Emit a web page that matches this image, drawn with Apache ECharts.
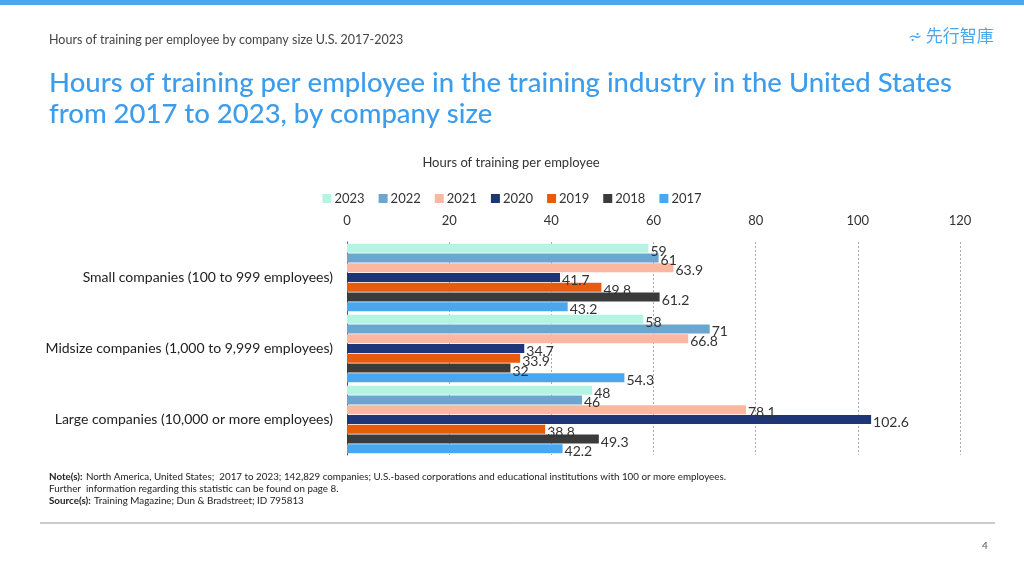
<!DOCTYPE html>
<html><head><meta charset="utf-8">
<script src="https://cdn.jsdelivr.net/npm/echarts@6/dist/echarts.min.js"></script>
<style>html,body{margin:0;padding:0;background:#fff}#c{width:1024px;height:576px}</style>
</head><body><div id="c"></div>
<script>
const categories = ['Small companies (100 to 999 employees)', 'Midsize companies (1,000 to 9,999 employees)', 'Large companies (10,000 or more employees)'];
const years = ['2023', '2022', '2021', '2020', '2019', '2018', '2017'];
const v2023 = [59, 58, 48];
const v2022 = [61, 71, 46];
const v2021 = [63.9, 66.8, 78.1];
const v2020 = [41.7, 34.7, 102.6];
const v2019 = [49.8, 33.9, 38.8];
const v2018 = [61.2, 32, 49.3];
const v2017 = [43.2, 54.3, 42.2];
const seriesValues = [v2023, v2022, v2021, v2020, v2019, v2018, v2017];
const colors = ['#b2f5e3', '#6aa6cf', '#fbb7a0', '#1e3677', '#e85b0c', '#3b3b3b', '#49a7f0'];
const xTicks = [0, 20, 40, 60, 80, 100, 120];

const font = 'Lato, "Open Sans", sans-serif';
const chart = echarts.init(document.getElementById('c'));
chart.setOption({
  animation: false,
  textStyle: { fontFamily: font },
  title: {
    text: 'Hours of training per employee in the training industry in the United States\nfrom 2017 to 2023, by company size',
    left: 49, top: 68, padding: 0,
    textStyle: { color: '#3d9ded', fontSize: 27.5, fontWeight: 500, lineHeight: 31, fontFamily: font }
  },
  legend: {
    top: 187, left: 'center',
    data: years,
    itemWidth: 9, itemHeight: 9, itemGap: 14,
    icon: 'rect',
    textStyle: { fontSize: 13, color: '#333', padding: [0, 0, 0, -2] }
  },
  grid: { left: 347, right: 64, top: 242, bottom: 121 },
  xAxis: {
    type: 'value', position: 'top', min: xTicks[0], max: xTicks[xTicks.length - 1], interval: 20,
    axisLine: { show: false }, axisTick: { show: false },
    axisLabel: { fontSize: 13, color: '#333', margin: 15 },
    splitLine: { lineStyle: { type: [2, 2], color: '#aaa' } }
  },
  yAxis: {
    type: 'category', data: categories, inverse: true,
    axisLine: { lineStyle: { color: '#555' } }, axisTick: { show: false },
    axisLabel: { fontSize: 14, color: '#222', margin: 14 }
  },
  series: years.map((y, i) => ({
    name: y, type: 'bar', data: seriesValues[i], z: 10 - i,
    itemStyle: { color: colors[i] },
    barGap: '10%', barCategoryGap: '5%',
    label: { show: true, position: 'right', distance: 2, offset: [0, 3], fontSize: 14, color: '#333' }
  })),
  graphic: [
    { type: 'rect', shape: { x: 0, y: 0, width: 1024, height: 5 }, style: { fill: '#49a7f0' } },
    { type: 'text', left: 49, top: 33, style: { text: 'Hours of training per employee by company size U.S. 2017-2023', fontSize: 12.5, fill: '#444', fontFamily: font } },
    { type: 'text', left: 908, top: 27, style: { text: '⩫ 先行智庫', fontSize: 17, fill: '#4aa8f0', fontFamily: '"Noto Sans CJK TC", sans-serif' } },
    { type: 'text', x: 511, y: 163, style: { text: 'Hours of training per employee', fontSize: 13, fill: '#333', fontFamily: font, align: 'center', verticalAlign: 'middle' } },
    { type: 'text', left: 49, top: 471, style: {
      rich: { b: { fontWeight: 'bold', fontSize: 9.8, fill: '#222', fontFamily: font }, n: { fontSize: 9.8, fill: '#222', fontFamily: font, lineHeight: 11.5 } },
      text: '{b|Note(s):} {n|North America, United States;  2017 to 2023; 142,829 companies; U.S.-based corporations and educational institutions with 100 or more employees.}\n{n|Further  information regarding this statistic can be found on page 8.}\n{b|Source(s):} {n|Training Magazine; Dun & Bradstreet; ID 795813}'
    } },
    { type: 'line', shape: { x1: 40, y1: 523, x2: 995, y2: 523 }, style: { stroke: '#999', lineWidth: 1 } },
    { type: 'text', left: 982, top: 541, style: { text: '4', fontSize: 10, fill: '#555', fontFamily: font } }
  ]
});
</script></body></html>
